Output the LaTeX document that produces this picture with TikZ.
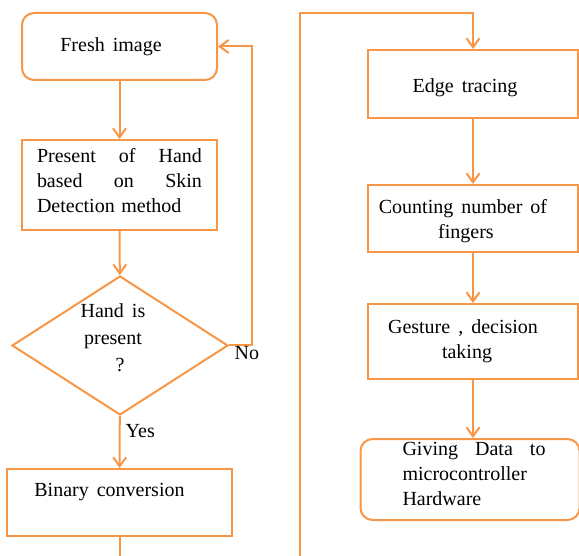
\documentclass[tikz,border=0pt]{standalone}
\usepackage{fontspec}
\setmainfont{Liberation Serif}
\usepackage{tikz}
\usetikzlibrary{arrows.meta,shapes.geometric}
\definecolor{flow}{RGB}{247,150,70}
\def\flowfont{\fontsize{20}{25}\selectfont\spaceskip=0.4em plus 0.2em minus 0.1em\relax}
\def\spreadline#1#2#3#4{\leavevmode\hbox to #1{#2\hfil #3\hfil #4}}

\begin{document}
\begin{tikzpicture}[x=1pt,y=-1pt,
	box/.style={draw=flow, line width=2pt, rectangle, inner sep=0pt, align=center, font=\flowfont},
	roundbox/.style={box, rounded corners=12pt},
	flowline/.style={draw=flow, line width=2pt},
	flowarrow/.style={flowline, -{Straight Barb[length=9pt,width=13pt]}},
	lbl/.style={inner sep=0pt, font=\flowfont}]
			%%%%% START %%%%%
			
			\useasboundingbox (0,0) rectangle (579,556);
			
			\node[roundbox, minimum width=195, minimum height=67] (fresh) at (119.5,46.5) {Fresh image\hspace*{17pt}};
			\node[box, minimum width=195, minimum height=90, text width=165pt, align=left] (skin) at (119.5,185) {\spreadline{165pt}{Present}{of}{Hand}\\ \spreadline{165pt}{based}{on}{Skin}\\ Detection method\\[-15pt]\mbox{}};
			\node[box, diamond, aspect=1.55, minimum width=216, minimum height=139] (hand) at (120,345.5) {};
			\node[lbl, align=center] (handtext) at (113,338) {Hand is\\[2pt]present\\[2pt]\hspace*{14pt}?};
			\node[box, minimum width=225, minimum height=67] (binary) at (119.5,502.5) {Binary conversion\hspace*{20pt}\\ \mbox{}};
			
			\node[box, minimum width=210, minimum height=68, label={[lbl, xshift=-8pt, yshift=-4pt]center:Edge tracing}] (edge) at (473,84) {};
			\node[box, minimum width=210, minimum height=67, label={[lbl, align=center, xshift=-10pt, yshift=-3pt]center:Counting number of\\\hspace*{6pt}fingers}] (count) at (473,218.5) {};
			\node[box, minimum width=210, minimum height=75] (gesture) at (473,341.5) {Gesture , decision\hspace*{20pt}\\taking\hspace*{12pt}};
			\node[roundbox, minimum width=219, minimum height=81, text width=143pt, align=left] (giving) at (470,479.5) {\hspace*{4pt}\spreadline{143pt}{Giving}{Data}{to}\\ \hspace*{4pt}microcontroller\\ \hspace*{4pt}Hardware\\[-13pt]\mbox{}};
			
			\coordinate (leftend) at (119.5,556);
			\coordinate (rightend) at (300,556);
			\coordinate (topturn) at (300,13);
			
			\draw[flowarrow] (fresh) -- (skin);
			\draw[flowarrow] (skin) -- (hand);
			\draw[flowarrow] (hand) -- node[lbl, pos=0.3, anchor=west, xshift=5pt] (yes) {Yes} (binary);
			\draw[flowarrow] (hand.east) -- node[lbl, pos=0.2, anchor=north west] (no) {No} ++(23,0) |- (fresh.east);
			\draw[flowline] (binary) -- (leftend);
			
			\draw[flowarrow] (rightend) -- (topturn) -| (edge.north);
			\draw[flowarrow] (edge) -- (count);
			\draw[flowarrow] (count) -- (gesture);
			\draw[flowarrow] (gesture.south) -- (gesture.south |- giving.north);
			
			%%%%% END %%%%%
\end{tikzpicture}
\end{document}
